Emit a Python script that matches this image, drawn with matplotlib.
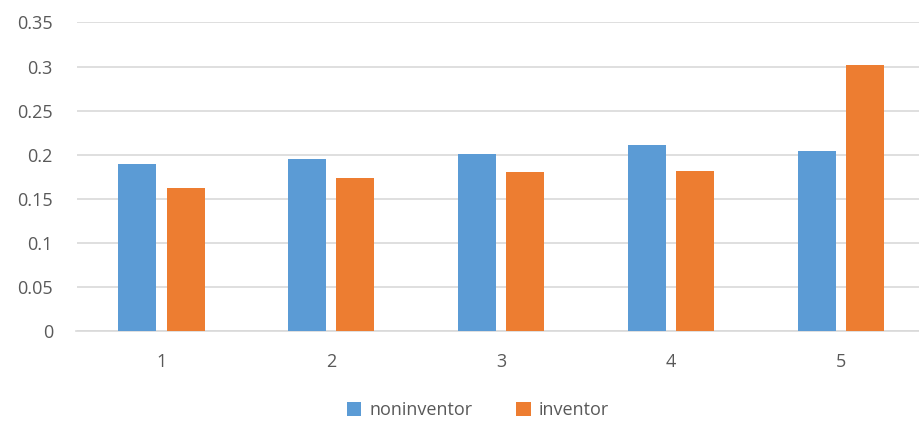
import numpy as np
import matplotlib.pyplot as plt

categories = ["1", "2", "3", "4", "5"]
noninventor = [0.189, 0.195, 0.2005, 0.211, 0.2045]
inventor = [0.1625, 0.174, 0.180, 0.182, 0.3015]

blue = "#5B9BD5"
orange = "#ED7D31"
grid = "#D9D9D9"
txt = "#595959"

plt.rcParams["font.family"] = ["Open Sans", "DejaVu Sans"]

fig = plt.figure(figsize=(9.19, 4.28), dpi=100)
W, H = 919, 428
ax = fig.add_axes([76.5 / W, 97 / H, 849.5 / W, 308.5 / H])

x = np.arange(len(categories))
w = 0.2235
ax.bar(x - 0.142, noninventor, w, color=blue, label="noninventor", zorder=3)
ax.bar(x + 0.142, inventor, w, color=orange, label="inventor", zorder=3)

ax.set_xlim(-0.5, len(categories) - 0.5)
ax.set_ylim(0, 0.35)
ax.set_yticks(np.arange(0, 0.351, 0.05))
ax.set_yticklabels(["0", "0.05", "0.1", "0.15", "0.2", "0.25", "0.3", "0.35"])
ax.set_xticks(x)
ax.set_xticklabels(categories)

ax.yaxis.grid(True, color=grid, linewidth=1.2, zorder=0)
for s in ["top", "right", "left"]:
    ax.spines[s].set_visible(False)
ax.spines["bottom"].set_color(grid)
ax.spines["bottom"].set_linewidth(1.2)
ax.tick_params(axis="both", length=0, colors=txt, labelsize=13)
ax.tick_params(axis="y", pad=17)
ax.tick_params(axis="x", pad=16)

ax.legend(loc="center", bbox_to_anchor=(0.4726, -0.256),
          ncol=2, frameon=False, fontsize=13, handlelength=0.8, handleheight=0.8,
          handletextpad=0.45, columnspacing=2.4, labelcolor=txt)

plt.savefig("out.png", dpi=100)
